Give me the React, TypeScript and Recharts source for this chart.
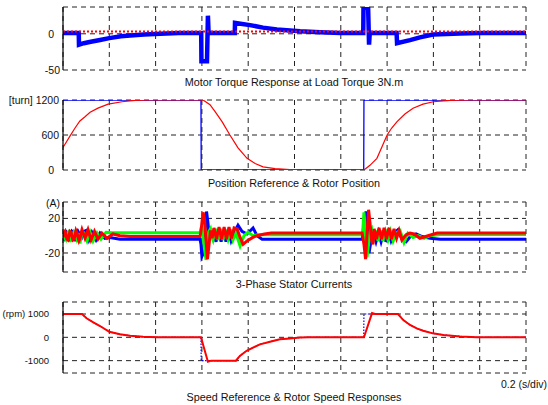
import React from "react";
import { LineChart, Line, XAxis, YAxis, CartesianGrid } from "recharts";

type Pt = [number, number];

// time in ms, 0.2 s per division
const timeTicks = [0, 200, 400, 600, 800, 1000, 1200, 1400, 1600, 1800, 2000];

// --- motor torque (N.m)
const torqueTicks = [-50, 0];
const torqueMotor: Pt[] = [
  [0, 1], [68, 1], [69, -15], [90, -13], [120, -11], [160, -8.5], [200, -6], [250, -3.5], [290, -2.5],
  [350, -1], [420, 0], [500, 1], [597, 1], [598, -38], [622, -38], [626, 25], [629, 0], [633, 1],
  [742, 1], [743, 15], [808, 12], [864, 8.5], [924, 6], [1024, 3.5], [1110, 2], [1200, 1], [1297, 1],
  [1298, 36], [1318, 36], [1322, -15], [1325, 1], [1441, 1], [1443, -13], [1499, -8.7], [1542, -5],
  [1598, -1], [1715, 0.5], [1800, 1], [2000, 1],
];
const torqueLoad: Pt[] = [[0, 3], [2000, 3]];

// --- position (turn)
const posTicks = [0, 600, 1200];
const posRef: Pt[] = [[0, 1200], [596, 1200], [597, 0], [1299, 0], [1300, 1200], [2000, 1200]];
const posRotor: Pt[] = [
  [0, 385], [30, 580], [52, 720], [73, 840], [95, 913], [117, 990], [151, 1060], [195, 1130],
  [255, 1170], [311, 1195], [380, 1200], [605, 1200], [635, 1120], [657, 1000], [687, 830],
  [721, 600], [756, 380], [795, 200], [830, 110], [864, 55], [916, 25], [980, 8], [1024, 0],
  [1300, 0], [1326, 80], [1356, 200], [1378, 400], [1400, 600], [1420, 720], [1443, 830],
  [1477, 960], [1512, 1060], [1555, 1130], [1600, 1170], [1672, 1195], [1758, 1200], [2000, 1200],
];

// --- stator currents (A)
const currentTicks = [-20, 0, 20];
const currentA: Pt[] = [
  [0, -3], [4, -4], [9, 0], [13, 5], [17, 4], [22, 0], [26, -5], [30, -5], [35, 1], [39, 5], [43, 4],
  [48, -1], [52, -5], [56, -5], [61, 2], [65, 5], [69, 3], [74, -2], [78, -5], [82, 4],
  [99, 6], [112, -5], [125, 4], [143, -5], [160, 3], [181, -3], [203, -2], [246, -4], [592, -4],
  [596, -10], [600, -24], [607, -20], [613, 5], [620, 28], [626, 15], [633, -5], [639, 3],
  [650, 4], [661, -7], [672, 5], [683, -7], [693, 5], [704, -7], [715, 5], [726, -6], [739, 3],
  [756, 12], [773, 5], [795, 2], [821, 9], [838, 0], [860, -4], [1292, -4],
  [1300, 5], [1309, 28], [1315, 10], [1322, -20], [1328, -10], [1335, 3],
  [1341, 3], [1352, -7], [1363, 4], [1374, -7], [1385, 4], [1395, -7], [1406, 4], [1417, -6],
  [1430, 3], [1447, 7], [1464, -4], [1482, -7], [1503, 0], [1525, 2], [1551, -1], [1585, -3],
  [1629, -4], [2000, -4],
];
const currentB: Pt[] = [
  [0, 4], [4, 0], [9, -4], [13, -5], [17, 0], [22, 4], [26, 5], [30, 0], [35, -5], [39, -4], [43, 1],
  [48, 5], [52, 4], [56, -1], [61, -5], [65, -3], [69, 3], [73, -9], [78, -2], [82, 2],
  [91, 3], [104, -6], [117, 4], [130, -6], [147, 3], [164, -4], [186, 4], [212, 3.5], [592, 3.5],
  [598, 10], [605, 0], [611, -15], [618, -28], [624, -20], [631, 5], [637, 8], [644, -2],
  [648, -5], [659, 8], [670, -5], [680, 8], [691, -5], [702, 7], [713, -4], [724, 7], [734, -5],
  [747, 3], [765, -12], [782, 0], [799, 4], [821, 0], [842, 1], [873, 1], [1292, 1],
  [1296, 10], [1300, 27], [1305, 10], [1309, -15], [1313, -25], [1320, -10], [1326, 5], [1333, 8],
  [1339, -5], [1350, 6], [1361, -6], [1371, 6], [1382, -6], [1393, 5], [1404, -5], [1415, 5],
  [1426, -6], [1439, 3], [1456, 6], [1473, -8], [1490, 3], [1512, -2], [1534, 0], [1560, -3],
  [1585, 0], [1629, 1.5], [2000, 1.5],
];
const currentC: Pt[] = [
  [0, -2], [4, 3], [9, 5], [13, 1], [17, -4], [22, -5], [26, 0], [30, 5], [35, 4], [39, -1], [43, -5],
  [48, -4], [52, 1], [56, 6], [61, 3], [65, -2], [69, -6], [74, -3], [78, 3], [82, 7],
  [95, -3], [108, 7], [121, -5], [136, 5], [151, -4], [168, 3], [190, -3], [216, 2], [246, 0],
  [290, -1], [592, -1],
  [596, 5], [605, 27], [611, 20], [618, -5], [624, -27], [631, -10], [637, 6], [644, -3],
  [652, 9], [663, -4], [674, 10], [685, -4], [696, 10], [706, -4], [717, 10], [728, -3], [739, 9],
  [752, 8], [765, -2], [778, -10], [795, -6], [820, -2], [838, 0], [870, 2], [900, 3], [1292, 3],
  [1300, -10], [1307, -27], [1313, 0], [1320, 30], [1326, 15], [1333, -5], [1339, -10],
  [1344, 8], [1354, -4], [1365, 9], [1376, -4], [1387, 9], [1397, -4], [1408, 9], [1419, -4],
  [1430, 8], [1441, -3], [1452, 6], [1464, -5], [1482, 1], [1499, 3], [1516, 2], [1542, -3],
  [1577, 0], [1616, 3], [2000, 3],
];

// --- speed (rpm)
const speedTicks = [-1000, 0, 1000];
const speedRef: Pt[] = [
  [0, 1000], [82, 1000], [102, 815], [131, 640], [160, 485], [200, 240], [246, 128], [290, 70],
  [346, 20], [406, 0], [596, 0], [597, -1000], [747, -1000], [764, -800], [793, -575], [851, -300],
  [894, -190], [937, -80], [980, -50], [1024, -10], [1060, 0], [1299, 0], [1300, 1000], [1447, 1000],
  [1470, 740], [1499, 530], [1528, 385], [1556, 285], [1597, 170], [1643, 100], [1715, 40],
  [1787, 0], [2000, 0],
];
const speedRotor: Pt[] = [
  [0, 1000], [82, 1000], [102, 815], [131, 640], [160, 485], [200, 240], [246, 128], [290, 70],
  [346, 20], [406, 0], [596, 0], [626, -1050], [640, -1000], [747, -1000], [764, -800], [793, -575],
  [851, -300], [894, -190], [937, -80], [980, -50], [1024, -10], [1060, 0], [1300, 0], [1335, 1040],
  [1348, 1000], [1447, 1000], [1470, 740], [1499, 530], [1528, 385], [1556, 285], [1597, 170],
  [1643, 100], [1715, 40], [1787, 0], [2000, 0],
];

const FONT = "'Liberation Sans', Arial, Helvetica, sans-serif";
const W = 548;
const PAD = 12;

const rows = (pts: Pt[]) => pts.map(([t, v]) => ({ t, v }));

type Series = { data: Pt[]; color: string; width: number; dash?: string };

interface PanelProps {
  top: number;
  height: number;
  domain: [number, number];
  yTicks: number[];
  labelRight: (v: number) => number;
  label?: (v: number) => string;
  labelSize?: number;
  series: Series[];
  topBorder?: boolean;
}

const border = { stroke: "#000", strokeWidth: 1.2 };

function Panel({ top, height, domain, yTicks, labelRight, label, labelSize = 10.5, series, topBorder = true }: PanelProps) {
  const fmt = label ?? ((v: number) => String(v));
  const tick = (p: any) => (
    <text x={labelRight(p.payload.value)} y={p.y} dy="0.36em" textAnchor="end" fontSize={labelSize} fontFamily={FONT} fill="#111">
      {fmt(p.payload.value)}
    </text>
  );
  return (
    <div style={{ position: "absolute", left: 0, top: top - PAD, width: W, height: height + 2 * PAD }}>
      <LineChart width={W} height={height + 2 * PAD} margin={{ top: PAD, right: 22, bottom: PAD, left: 0 }}>
        <CartesianGrid xAxisId="b" yAxisId="l" stroke="#222" strokeDasharray="5 4" strokeWidth={1} />
        <XAxis xAxisId="b" dataKey="t" type="number" domain={[0, 2000]} ticks={timeTicks} allowDataOverflow
          height={0} mirror tickSize={4} tick={() => <g />} stroke="#000" axisLine={border} />
        <XAxis xAxisId="t" dataKey="t" type="number" orientation="top" domain={[0, 2000]} ticks={timeTicks} allowDataOverflow
          height={0} mirror tickSize={4} tick={() => <g />} stroke="#000" axisLine={topBorder ? border : false} />
        <YAxis yAxisId="l" type="number" domain={domain} ticks={yTicks} allowDataOverflow width={63}
          tickLine={false} tick={tick} axisLine={border} />
        <YAxis yAxisId="r" type="number" orientation="right" domain={domain} ticks={yTicks} allowDataOverflow width={0}
          mirror tickSize={4} tick={() => <g />} stroke="#000" axisLine={border} />
        {series.map((s, i) => (
          <Line key={i} xAxisId="b" yAxisId="l" data={rows(s.data)} dataKey="v" type="linear" dot={false}
            stroke={s.color} strokeWidth={s.width} strokeDasharray={s.dash} isAnimationActive={false} />
        ))}
      </LineChart>
    </div>
  );
}

const Title = ({ y, children }: { y: number; children: React.ReactNode }) => (
  <div style={{ position: "absolute", left: 94, width: 400, top: y - 7, height: 14, lineHeight: "14px", textAlign: "center", fontFamily: FONT, fontSize: 10.8, color: "#111", whiteSpace: "nowrap" }}>
    {children}
  </div>
);

export default function App() {
  return (
    <div style={{ position: "absolute", left: 0, top: 0, width: W, height: 405, background: "#fff", overflow: "hidden" }}>
      <Panel top={7} height={63} domain={[-50, 37]} yTicks={torqueTicks} topBorder={false}
        labelRight={(v) => (v === 0 ? 54 : 60)}
        series={[
          { data: torqueMotor, color: "#0000ff", width: 4.5 },
          { data: torqueLoad, color: "#ff0000", width: 2, dash: "2 2" },
        ]} />
      <Title y={82}>Motor Torque Response at Load Torque 3N.m</Title>

      <Panel top={100} height={70} domain={[0, 1200]} yTicks={posTicks}
        labelRight={(v) => (v === 0 ? 54 : 59)}
        label={(v) => (v === 1200 ? "[turn] 1200" : String(v))}
        series={[
          { data: posRef, color: "#0000ff", width: 1.3 },
          { data: posRotor, color: "#ff0000", width: 1.2 },
        ]} />
      <Title y={183}>Position Reference &amp; Rotor Position</Title>

      <Panel top={202} height={70} domain={[-42, 39]} yTicks={currentTicks}
        labelRight={(v) => (v === 0 ? 59 : 60)}
        series={[
          { data: currentA, color: "#0000ff", width: 3 },
          { data: currentB, color: "#00ff00", width: 3 },
          { data: currentC, color: "#ff0000", width: 3 },
        ]} />
      <div style={{ position: "absolute", left: 20, width: 40, top: 196, height: 14, lineHeight: "14px", textAlign: "right", fontFamily: FONT, fontSize: 10.5, color: "#111" }}>(A)</div>
      <Title y={284}>3-Phase Stator Currents</Title>

      <Panel top={302} height={71} domain={[-1530, 1515]} yTicks={speedTicks}
        labelRight={() => 49} labelSize={9.5}
        label={(v) => (v === 1000 ? "(rpm) 1000" : String(v))}
        series={[
          { data: speedRef, color: "#0000ff", width: 1.2, dash: "1.5 1.5" },
          { data: speedRotor, color: "#ff0000", width: 2 },
        ]} />
      <div style={{ position: "absolute", right: 1, top: 377, height: 14, lineHeight: "14px", fontFamily: FONT, fontSize: 10.5, color: "#111", whiteSpace: "nowrap" }}>0.2 (s/div)</div>
      <Title y={397}>Speed Reference &amp; Rotor Speed Responses</Title>
    </div>
  );
}
